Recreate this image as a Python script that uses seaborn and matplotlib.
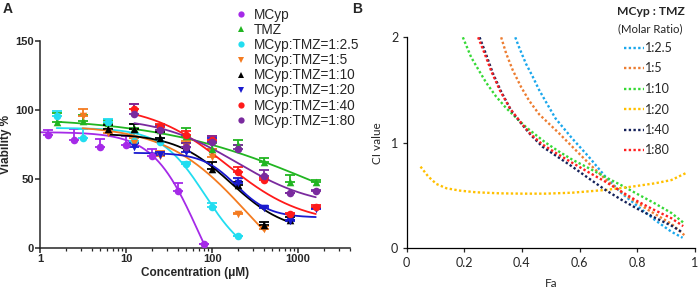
import numpy as np
import pandas as pd
import matplotlib
matplotlib.use("Agg")
import matplotlib.pyplot as plt
from matplotlib.lines import Line2D
import seaborn as sns

sns.set_style("ticks")
plt.rcParams['font.family'] = ['Liberation Sans', 'DejaVu Sans']

# ---- panel A: viability (mean, upper SD) ----
LABELS_A = ["MCyp", "TMZ", "MCyp:TMZ=1:2.5", "MCyp:TMZ=1:5", "MCyp:TMZ=1:10",
            "MCyp:TMZ=1:20", "MCyp:TMZ=1:40", "MCyp:TMZ=1:80"]
COLORS_A = ["#A52AE8", "#21B521", "#22DDF0", "#F47B20", "#000000",
            "#1A1ACF", "#FF1A1A", "#7A2A9E"]
MARKERS_A = ["o", "^", "o", "v", "^", "v", "o", "o"]

conc_mcyp = [1.25, 2.5, 5, 10, 20, 40, 80]
viab_mcyp = [82, 78, 73, 74.5, 67, 41, 3]
err_mcyp = [3.5, 8, 6, 7, 4.5, 6.3, 0]

conc_tmz = [1.5625, 3.125, 6.25, 12.5, 25, 50, 100, 200, 400, 800, 1600]
viab_tmz = [91.5, 92, 90.5, 87, 85.5, 81, 72, 75, 62, 48, 47.5]
err_tmz = [6, 4.5, 2.5, 3, 3.5, 6, 4, 3.5, 3.5, 5, 2]

conc_r25 = [1.5625, 3.125, 6.25, 12.5, 25, 50, 100, 200]
viab_r25 = [96, 80, 91, 77.5, 77, 61, 30, 8.5]
err_r25 = [3.5, 6.5, 2.5, 6, 3, 1.5, 2.5, 0.5]

conc_r5 = [3.125, 6.25, 12.5, 25, 50, 100, 200, 400]
viab_r5 = [96, 83, 76, 67, 73, 66, 25, 14]
err_r5 = [4.5, 3.5, 4, 3.5, 4.5, 6, 0.5, 2]

conc_r10 = [6.25, 12.5, 25, 50, 100, 200, 400, 800]
viab_r10 = [86, 86, 80, 73, 57.5, 45.5, 17, 20.5]
err_r10 = [3, 4, 4, 3, 5, 2, 1.5, 2]

conc_r20 = [12.5, 25, 50, 100, 200, 400, 800, 1600]
viab_r20 = [73, 67.5, 69.5, 77, 47, 29, 19.5, 28]
err_r20 = [3, 2, 3.5, 3, 4, 1.5, 1, 1]

conc_r40 = [12.5, 25, 50, 100, 200, 400, 800, 1600]
viab_r40 = [101, 87.5, 82, 78, 55, 49.5, 25, 30]
err_r40 = [3, 2.5, 3, 3, 3.5, 1, 0.5, 1]

conc_r80 = [12.5, 25, 50, 100, 200, 400, 800, 1600]
viab_r80 = [97, 85.5, 73, 77, 71.5, 52.5, 39.5, 41.5]
err_r80 = [7, 3, 3, 4, 3, 4, 0.5, 0.5]

# 4-parameter logistic fits: top, bottom, EC50, hill ; curve start
fit_a = [[84, -60, 69, 1.64], [95, 0, 1600, 0.47], [87, -10, 82.4, 1.7],
         [89, -40, 265, 0.91], [83, 11, 166, 1.35], [69, 22, 190, 2.2],
         [104, 17, 147, 0.98], [95, 29, 193, 0.95]]
curve_start = [1, 1.5625, 1.5625, 3.125, 6.25, 12.5, 12.5, 12.5]

CONC = [conc_mcyp, conc_tmz, conc_r25, conc_r5, conc_r10, conc_r20, conc_r40, conc_r80]
VIAB = [viab_mcyp, viab_tmz, viab_r25, viab_r5, viab_r10, viab_r20, viab_r40, viab_r80]
ERR = [err_mcyp, err_tmz, err_r25, err_r5, err_r10, err_r20, err_r40, err_r80]

# ---- panel B: combination index vs fraction affected ----
LABELS_B = ["1:2.5", "1:5", "1:10", "1:20", "1:40", "1:80"]
COLORS_B = ["#1AA7EC", "#ED7D31", "#36D936", "#FFC000", "#14215A", "#FF2020"]

fa_r25 = [0.377, 0.391, 0.414, 0.437, 0.46, 0.483, 0.517, 0.575, 0.632, 0.69, 0.747, 0.804, 0.862, 0.919, 0.958]
ci_r25 = [2.0, 1.90, 1.75, 1.63, 1.50, 1.39, 1.23, 1.04, 0.868, 0.679, 0.521, 0.394, 0.268, 0.157, 0.10]
fa_r5 = [0.328, 0.345, 0.368, 0.397, 0.425, 0.46, 0.529, 0.575, 0.632, 0.69, 0.759, 0.839, 0.919, 0.964]
ci_r5 = [2.0, 1.85, 1.69, 1.53, 1.40, 1.27, 1.09, 0.963, 0.806, 0.655, 0.505, 0.363, 0.232, 0.125]
fa_r10 = [0.195, 0.224, 0.253, 0.276, 0.31, 0.345, 0.379, 0.414, 0.448, 0.483, 0.53, 0.575, 0.632, 0.69, 0.747, 0.804, 0.862, 0.919, 0.96]
ci_r10 = [2.0, 1.81, 1.675, 1.57, 1.44, 1.33, 1.24, 1.15, 1.075, 1.0, 0.915, 0.84, 0.76, 0.675, 0.595, 0.51, 0.425, 0.335, 0.245]
fa_r20 = [0.048, 0.075, 0.103, 0.138, 0.184, 0.241, 0.322, 0.402, 0.483, 0.575, 0.69, 0.781, 0.862, 0.919, 0.968]
ci_r20 = [0.774, 0.68, 0.61, 0.569, 0.547, 0.531, 0.521, 0.518, 0.518, 0.527, 0.553, 0.584, 0.616, 0.647, 0.711]
fa_r40 = [0.253, 0.274, 0.299, 0.328, 0.362, 0.397, 0.431, 0.471, 0.517, 0.575, 0.632, 0.69, 0.747, 0.804, 0.862, 0.919, 0.958]
ci_r40 = [2.0, 1.85, 1.66, 1.485, 1.31, 1.185, 1.074, 0.964, 0.88, 0.774, 0.663, 0.553, 0.458, 0.37, 0.29, 0.215, 0.15]
fa_r80 = [0.248, 0.27, 0.295, 0.325, 0.36, 0.397, 0.431, 0.471, 0.517, 0.575, 0.632, 0.69, 0.747, 0.804, 0.862, 0.919, 0.96]
ci_r80 = [2.0, 1.85, 1.67, 1.49, 1.32, 1.19, 1.08, 0.985, 0.905, 0.81, 0.72, 0.631, 0.535, 0.442, 0.36, 0.285, 0.21]

FA = [fa_r25, fa_r5, fa_r10, fa_r20, fa_r40, fa_r80]
CI = [ci_r25, ci_r5, ci_r10, ci_r20, ci_r40, ci_r80]

fig = plt.figure(figsize=(7, 2.88), dpi=100)
axA = fig.add_axes([40 / 700, 1 - 248 / 288, 310 / 700, 207 / 288])
axB = fig.add_axes([406.7 / 700, 1 - 248.3 / 288, 288 / 700, 211 / 288])

# ---------- A ----------
handles_a = []
for i, lab in enumerate(LABELS_A):
    top, bot, ec50, hill = fit_a[i]
    xs = np.logspace(np.log10(curve_start[i]), np.log10(max(CONC[i])), 200)
    ys = bot + (top - bot) / (1 + (xs / ec50) ** hill)
    sns.lineplot(x=xs, y=ys, color=COLORS_A[i], lw=1.3, ax=axA, legend=False)
    axA.errorbar(CONC[i], VIAB[i], yerr=[np.zeros(len(ERR[i])), ERR[i]], fmt="none",
                 ecolor=COLORS_A[i], elinewidth=1.3, capsize=3.5, capthick=1.3)
    df = pd.DataFrame({"conc": CONC[i], "viab": VIAB[i]})
    sns.scatterplot(data=df, x="conc", y="viab", color=COLORS_A[i], marker=MARKERS_A[i],
                    s=30, linewidth=0, ax=axA, legend=False, zorder=3)
    handles_a.append(Line2D([], [], ls="none", marker=MARKERS_A[i], color=COLORS_A[i],
                            markersize=4.5, markeredgewidth=0))

axA.set_xscale("log")
axA.set_xlim(1, 4000)
axA.set_ylim(0, 150)
axA.set_yticks([0, 50, 100, 150])
axA.set_xticks([1, 10, 100, 1000])
axA.set_xticklabels(["1", "10", "100", "1000"])
axA.tick_params(axis="both", which="major", labelsize=8, width=1.1, length=3.5, pad=1)
axA.tick_params(axis="x", which="minor", width=0.9, length=2)
for t in axA.get_xticklabels() + axA.get_yticklabels():
    t.set_fontweight("bold")
for s in ["left", "bottom"]:
    axA.spines[s].set_linewidth(1.1)
sns.despine(ax=axA)
axA.set_xlabel("Concentration (\u03bcM)", fontsize=8.5, fontweight="bold", labelpad=2)
axA.set_ylabel("Viability %", fontsize=8.5, fontweight="bold", labelpad=2)
fig.legend(handles_a, LABELS_A, loc="upper left", bbox_to_anchor=(236 / 700, 1 - 8 / 288),
           frameon=False, fontsize=9.8, handlelength=0.8, handletextpad=0.5,
           labelspacing=0.08, borderpad=0, borderaxespad=0)
fig.text(3 / 700, 1 - 2 / 288, "A", fontsize=10, fontweight="bold", va="top")

# ---------- B ----------
fontB = ['Lato', 'DejaVu Sans']
for i, lab in enumerate(LABELS_B):
    sns.lineplot(x=FA[i], y=CI[i], color=COLORS_B[i], lw=1.7, ls=(0, (1, 1)),
                 ax=axB, legend=False, sort=False)
axB.set_xlim(0, 1)
axB.set_ylim(0, 2)
axB.set_xticks([0, 0.2, 0.4, 0.6, 0.8, 1])
axB.set_xticklabels(["0", "0.2", "0.4", "0.6", "0.8", "1"])
axB.set_yticks([0, 1, 2])
axB.tick_params(axis="both", labelsize=9, width=0.9, length=3, pad=3)
for t in axB.get_xticklabels() + axB.get_yticklabels():
    t.set_family(fontB)
for s in ["left", "bottom"]:
    axB.spines[s].set_linewidth(0.9)
    axB.spines[s].set_color("black")
sns.despine(ax=axB)
axB.set_xlabel("Fa", fontsize=8.5, family=fontB, labelpad=7)
axB.set_ylabel("CI value", fontsize=8.5, family=fontB, labelpad=6)

handles_b = [Line2D([], [], color=c, lw=1.7, ls=(0, (1, 1))) for c in COLORS_B]
fig.legend(handles_b, LABELS_B, loc="upper left", bbox_to_anchor=(624 / 700, 1 - 42 / 288),
           frameon=False, prop={"family": fontB, "size": 9}, handlelength=1.6,
           handletextpad=0.1, labelspacing=0.68, borderpad=0, borderaxespad=0)
fig.text(651 / 700, 1 - 6 / 288, "MCyp : TMZ", fontsize=8.7, fontweight="bold",
         family=fontB, ha="center", va="top")
fig.text(650 / 700, 1 - 23 / 288, "(Molar Ratio)", fontsize=8.2, family=fontB,
         ha="center", va="top")
fig.text(352 / 700, 1 - 2 / 288, "B", fontsize=10, fontweight="bold", va="top")

fig.savefig("out.png", dpi=100)
